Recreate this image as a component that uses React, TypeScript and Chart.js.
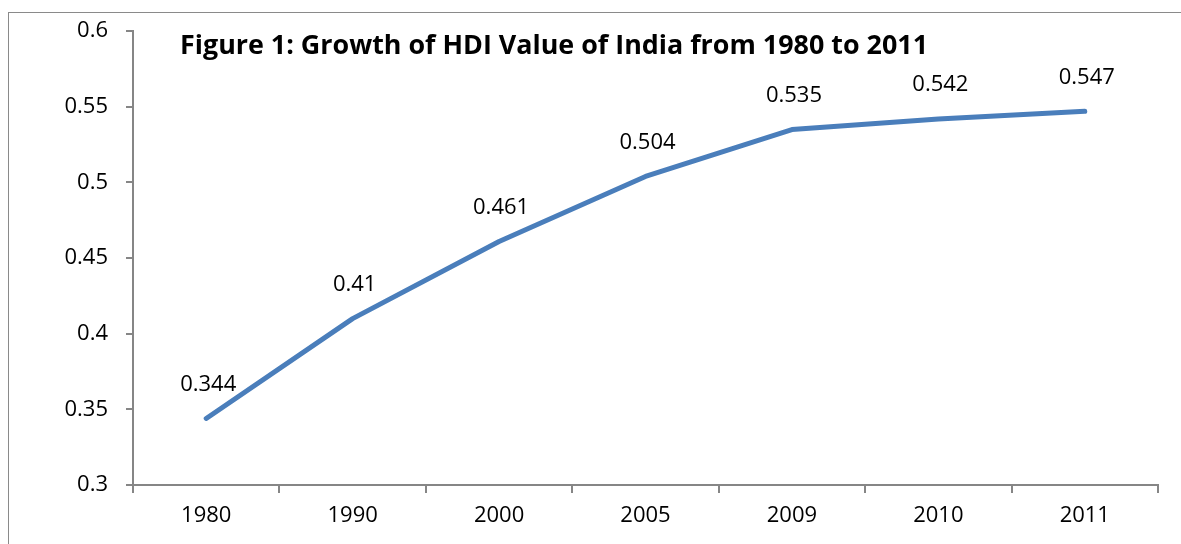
import React, { useEffect, useRef } from "react";
import { Chart, registerables } from "chart.js";

Chart.register(...registerables);

const categories = ["1980", "1990", "2000", "2005", "2009", "2010", "2011"];
const hdiValues = [0.344, 0.41, 0.461, 0.504, 0.535, 0.542, 0.547];
const valueLabels = ["0.344", "0.41", "0.461", "0.504", "0.535", "0.542", "0.547"];
const yTickLabels = ["0.3", "0.35", "0.4", "0.45", "0.5", "0.55", "0.6"];
const titleText = "Figure 1: Growth of HDI Value of India from 1980 to 2011";

const FONT = "'Open Sans', 'Liberation Sans', sans-serif";
const AXIS_GRAY = "#868686";

const overlayPlugin = {
  id: "overlay",
  afterDatasetsDraw(chart: any) {
    const ctx = chart.ctx;
    const area = chart.chartArea;
    const meta = chart.getDatasetMeta(0);
    ctx.save();
    // data labels
    ctx.fillStyle = "#000";
    ctx.font = `22px ${FONT}`;
    ctx.textAlign = "center";
    ctx.textBaseline = "middle";
    meta.data.forEach((pt: any, i: number) => {
      ctx.fillText(valueLabels[i], pt.x + 2, pt.y - 34);
    });
    // title inside plot area
    ctx.font = `bold 27px ${FONT}`;
    ctx.textAlign = "left";
    ctx.textBaseline = "alphabetic";
    const w = ctx.measureText(titleText).width;
    const target = 748;
    ctx.translate(area.left + 47, 54);
    ctx.scale(target / w, 1);
    ctx.fillText(titleText, 0, 0);
    ctx.restore();
  },
};

export default function App() {
  const canvasRef = useRef<HTMLCanvasElement>(null);

  useEffect(() => {
    if (!canvasRef.current) return;
    const chart = new Chart(canvasRef.current, {
      type: "line",
      data: {
        labels: categories,
        datasets: [
          {
            data: hdiValues,
            borderColor: "#4A7EBB",
            borderWidth: 5,
            borderCapStyle: "round",
            borderJoinStyle: "round",
            pointRadius: 0,
            tension: 0,
            fill: false,
          },
        ],
      },
      options: {
        animation: false,
        responsive: false,
        maintainAspectRatio: false,
        layout: { padding: { left: 0, top: 28, right: 23, bottom: 0 } },
        plugins: {
          legend: { display: false },
          title: { display: false },
          tooltip: { enabled: false },
        },
        scales: {
          x: {
            offset: true,
            grid: {
              offset: true,
              drawOnChartArea: false,
              drawTicks: true,
              tickLength: 8,
              color: AXIS_GRAY,
              lineWidth: 2,
            },
            border: { color: AXIS_GRAY, width: 2 },
            ticks: {
              color: "#000",
              font: { family: FONT, size: 22 },
              padding: 10,
              maxRotation: 0,
            },
            afterFit(scale: any) {
              scale.height = 59;
            },
          },
          y: {
            min: 0.3,
            max: 0.6,
            grid: {
              drawOnChartArea: false,
              drawTicks: true,
              tickLength: 7,
              color: AXIS_GRAY,
              lineWidth: 2,
            },
            border: { color: AXIS_GRAY, width: 2 },
            ticks: {
              stepSize: 0.05,
              color: "#000",
              font: { family: FONT, size: 22 },
              padding: 18,
              callback: (_v: any, i: number) => yTickLabels[i],
            },
            afterFit(scale: any) {
              scale.width = 133;
            },
          },
        },
      },
      plugins: [overlayPlugin],
    });
    return () => chart.destroy();
  }, []);

  return (
    <div style={{ position: "fixed", left: 0, top: 0, width: 1181, height: 544, background: "#fff" }}>
      <div
        style={{
          position: "absolute",
          left: 8,
          top: 12,
          width: 1200,
          height: 600,
          borderLeft: "1px solid #8a8a8a",
          borderTop: "1px solid #8a8a8a",
        }}
      />
      <canvas
        ref={canvasRef}
        width={1181}
        height={544}
        style={{ position: "absolute", left: 0, top: 0, width: 1181, height: 544 }}
      />
    </div>
  );
}
